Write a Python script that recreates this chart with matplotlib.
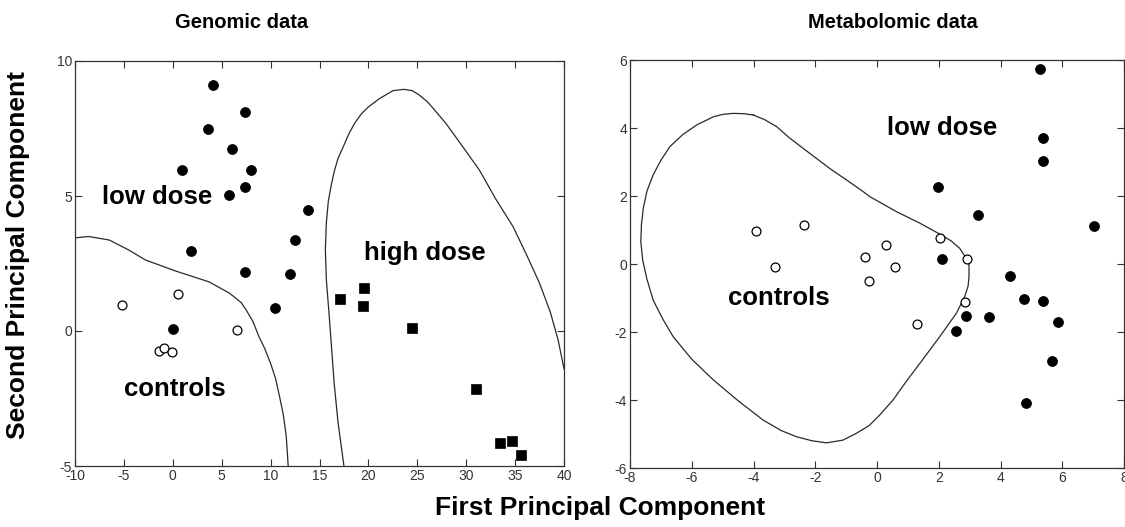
import matplotlib
matplotlib.use("Agg")
import matplotlib.pyplot as plt

plt.rcParams['font.family'] = ['Liberation Sans', 'DejaVu Sans']
plt.rcParams['axes.unicode_minus'] = False

# ---------------- Genomic data (left panel) ----------------
gen_low_x = [4.1, 7.4, 3.6, 6.1, 0.95, 8.0, 7.4, 5.7, 13.8, 12.45, 1.87, 7.4, 12.0, 10.4, 0.03]
gen_low_y = [9.12, 8.11, 7.5, 6.75, 5.96, 5.96, 5.35, 5.05, 4.5, 3.38, 2.95, 2.2, 2.1, 0.84, 0.09]
gen_ctrl_x = [-5.16, 0.58, 6.6, -1.4, -0.9, -0.1]
gen_ctrl_y = [0.97, 1.37, 0.05, -0.73, -0.64, -0.78]
gen_high_x = [17.1, 19.5, 19.4, 24.5, 31.0, 33.5, 34.7, 35.6]
gen_high_y = [1.2, 1.59, 0.94, 0.1, -2.14, -4.16, -4.06, -4.58]

gen_ctrl_bound_x = [-10, -8.6, -6.5, -4.5, -2.8, 0.3, 3.7, 5.8, 7.0, 7.5, 8.2, 8.8, 9.4, 10.0, 10.5,
                    10.9, 11.3, 11.6, 11.8]
gen_ctrl_bound_y = [3.45, 3.5, 3.37, 3.0, 2.63, 2.22, 1.82, 1.4, 1.05, 0.78, 0.35, -0.2, -0.65, -1.2,
                    -1.75, -2.4, -3.1, -3.9, -5.0]
gen_high_bound_x = [17.5, 16.9, 16.5, 16.0, 15.7, 15.6, 15.7, 15.9, 16.2, 16.5, 16.9, 17.4, 18.0,
                    18.6, 19.3, 20.0, 21.1, 22.5, 23.6, 24.5, 25.2, 26.0, 26.5, 27.9, 29.6, 31.35,
                    33.0, 34.8, 36.2, 37.5, 38.6, 39.4, 40.0]
gen_high_bound_y = [-5.0, -3.4, -1.94, 0.53, 1.9, 3.0, 4.0, 4.8, 5.4, 5.9, 6.4, 6.8, 7.3,
                    7.7, 8.05, 8.3, 8.6, 8.9, 8.95, 8.9, 8.74, 8.5, 8.3, 7.7, 6.85, 5.96,
                    4.9, 3.86, 2.8, 1.77, 0.7, -0.33, -1.4]

gen_xticks = [-10, -5, 0, 5, 10, 15, 20, 25, 30, 35, 40]
gen_yticks = [-5, 0, 5, 10]

# ---------------- Metabolomic data (right panel) ----------------
met_low_x = [5.28, 5.38, 5.38, 1.99, 3.27, 7.02, 2.11, 4.32, 4.75, 5.38, 2.87, 3.62, 5.86, 2.55, 5.68, 4.84]
met_low_y = [5.74, 3.70, 3.03, 2.26, 1.44, 1.13, 0.16, -0.34, -1.02, -1.09, -1.52, -1.55, -1.72, -1.96, -2.84, -4.08]
met_ctrl_x = [-3.92, -2.37, -3.3, -0.4, -0.25, 0.28, 0.58, 2.05, 2.92, 2.84, 1.29]
met_ctrl_y = [0.97, 1.14, -0.1, 0.21, -0.5, 0.57, -0.1, 0.77, 0.16, -1.13, -1.75]

met_bound_x = [-4.0, -4.3, -4.66, -5.0, -5.3, -5.84, -6.3, -6.71, -7.0, -7.25, -7.45, -7.57, -7.63,
               -7.65, -7.59, -7.45, -7.25, -6.95, -6.6, -6.0, -5.3, -4.5, -3.69, -3.1,
               -2.61, -2.1, -1.64, -1.1, -0.67, -0.25, 0.09, 0.52, 0.95, 1.39, 2.03, 2.57, 2.84,
               2.95, 2.98, 2.98, 2.89, 2.68, 2.4, 2.09, 1.39, 0.63, -0.23, -0.45, -1.0, -1.53,
               -2.39, -2.85, -3.25, -3.65, -4.0]
met_bound_y = [4.38, 4.42, 4.43, 4.4, 4.33, 4.09, 3.8, 3.45, 3.05, 2.62, 2.15, 1.64, 1.15,
               0.66, 0.12, -0.45, -1.06, -1.6, -2.14, -2.8, -3.41, -4.02, -4.59, -4.9,
               -5.08, -5.2, -5.26, -5.18, -4.98, -4.75, -4.44, -4.0, -3.45, -2.92, -2.14, -1.45, -0.96,
               -0.65, -0.37, -0.03, 0.17, 0.46, 0.68, 0.85, 1.2, 1.54, 1.98, 2.13, 2.48, 2.81,
               3.40, 3.72, 4.04, 4.25, 4.38]

met_xticks = [-8, -6, -4, -2, 0, 2, 4, 6, 8]
met_yticks = [-6, -4, -2, 0, 2, 4, 6]

W, H = 1125, 527
fig = plt.figure(figsize=(W / 100, H / 100), dpi=100)
fig.patch.set_facecolor('white')


def frac(x0, y0, x1, y1):
    return [x0 / W, 1 - y1 / H, (x1 - x0) / W, (y1 - y0) / H]


ax1 = fig.add_axes(frac(75, 61, 564, 466))
ax2 = fig.add_axes(frac(630, 60, 1124, 468))

line_kw = dict(color='#2a2a2a', lw=0.9)
filled_kw = dict(ls='none', marker='o', ms=7.2, mfc='black', mec='black', mew=0.5)
open_kw = dict(ls='none', marker='o', ms=6.4, mfc='white', mec='black', mew=0.9)
square_kw = dict(ls='none', marker='s', ms=7.6, mfc='black', mec='black', mew=0.5)
label_kw = dict(fontsize=18.5, fontweight='bold', ha='center', va='center')

# left panel
ax1.plot(gen_ctrl_bound_x, gen_ctrl_bound_y, **line_kw)
ax1.plot(gen_high_bound_x, gen_high_bound_y, **line_kw)
ax1.plot(gen_low_x, gen_low_y, **filled_kw)
ax1.plot(gen_ctrl_x, gen_ctrl_y, **open_kw)
ax1.plot(gen_high_x, gen_high_y, **square_kw)
ax1.set_xlim(-10, 40)
ax1.set_ylim(-5, 10)
ax1.set_xticks(gen_xticks)
ax1.set_yticks(gen_yticks)
ax1.text(-1.6, 4.96, 'low dose', **label_kw)
ax1.text(0.2, -2.16, 'controls', **label_kw)
ax1.text(25.8, 2.88, 'high dose', **label_kw)

# right panel
ax2.plot(met_bound_x, met_bound_y, **line_kw)
ax2.plot(met_low_x, met_low_y, **filled_kw)
ax2.plot(met_ctrl_x, met_ctrl_y, **open_kw)
ax2.set_xlim(-8, 8)
ax2.set_ylim(-6, 6)
ax2.set_xticks(met_xticks)
ax2.set_yticks(met_yticks)
ax2.text(2.1, 3.99, 'low dose', **label_kw)
ax2.text(-3.18, -1.0, 'controls', **label_kw)

for ax in (ax1, ax2):
    ax.tick_params(direction='in', top=True, right=True, length=5, width=0.8,
                   colors='#333333', labelsize=10, pad=2)
    for s in ax.spines.values():
        s.set_linewidth(0.9)
        s.set_color('#333333')
    ax.set_facecolor('white')

fig.text(242 / W, 1 - 22 / H, 'Genomic data', fontsize=14.5, fontweight='bold', ha='center', va='center')
fig.text(893 / W, 1 - 22 / H, 'Metabolomic data', fontsize=14.5, fontweight='bold', ha='center', va='center')
fig.text(600 / W, 1 - 508 / H, 'First Principal Component', fontsize=19, fontweight='bold',
         ha='center', va='center')
fig.text(18 / W, 1 - 255 / H, 'Second Principal Component', fontsize=19, fontweight='bold',
         ha='center', va='center', rotation=90)

fig.savefig('out.png', dpi=100, facecolor='white')
